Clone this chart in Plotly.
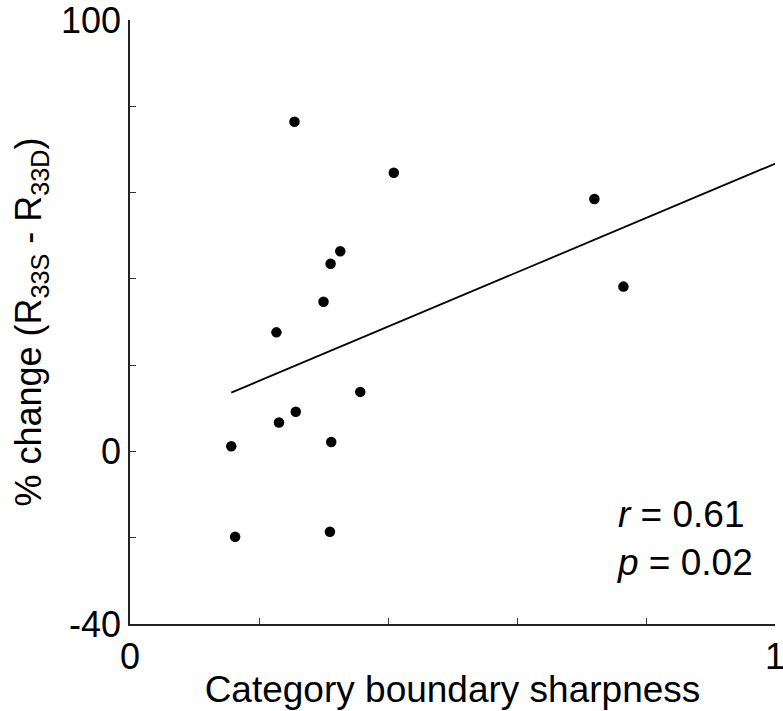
import numpy as np
import plotly.graph_objects as go

# Data
sharpness = [0.157, 0.163, 0.227, 0.231, 0.255, 0.257, 0.300, 0.311, 0.312,
             0.310, 0.326, 0.357, 0.409, 0.720, 0.765, 1.003]
pct_change = [1.2, -19.8, 27.6, 6.7, 76.4, 9.2, 34.7, 43.5, 2.2,
              -18.6, 46.4, 13.8, 64.6, 58.5, 38.2, 59.4]

x_tickvals = [0, 0.2, 0.4, 0.6, 0.8, 1]
x_ticktext = ["0", "", "", "", "", "1"]
y_tickvals = [-40, -20, 0, 20, 40, 60, 80, 100]
y_ticktext = ["-40", "", "0", "", "", "", "", "100"]

stats_text = "<i>r</i> = 0.61<br><i>p</i> = 0.02"

# Least-squares regression line
xa = np.array(sharpness)
ya = np.array(pct_change)
slope, intercept = np.polyfit(xa, ya, 1)
fit_x = [xa.min(), xa.max()]
fit_y = [slope * v + intercept for v in fit_x]

FONT = "Liberation Sans, Arial, sans-serif"

fig = go.Figure()
fig.add_trace(go.Scatter(x=fit_x, y=fit_y, mode="lines",
                         line=dict(color="black", width=1.8),
                         hoverinfo="skip", showlegend=False))
fig.add_trace(go.Scatter(x=sharpness, y=pct_change, mode="markers",
                         marker=dict(color="black", size=10.5),
                         cliponaxis=False, showlegend=False))

fig.update_layout(
    width=783, height=711,
    margin=dict(l=130, r=8, t=20, b=87),
    plot_bgcolor="white", paper_bgcolor="white",
    font=dict(family=FONT, size=36, color="black"),
    showlegend=False,
)
fig.update_xaxes(
    range=[0, 1], tickvals=x_tickvals, ticktext=x_ticktext,
    ticks="inside", ticklen=6, tickwidth=1, tickcolor="#333",
    showline=True, linecolor="#222", linewidth=1.5,
    showgrid=False, zeroline=False, automargin=False,
    ticklabeloverflow="allow",
    tickfont=dict(size=36),
    title=dict(text="Category boundary sharpness", font=dict(size=37), standoff=0),
)
fig.update_yaxes(
    range=[-40, 100], tickvals=y_tickvals, ticktext=y_ticktext,
    ticks="inside", ticklen=6, tickwidth=1, tickcolor="#333",
    showline=True, linecolor="#222", linewidth=1.5,
    showgrid=False, zeroline=False, automargin=False,
    ticklabeloverflow="allow",
    tickfont=dict(size=36),
    title=dict(text="% change (R<sub>33S</sub> - R<sub>33D</sub>)", font=dict(size=36), standoff=8),
)
fig.add_annotation(
    xref="paper", yref="paper", x=0.969, y=0.142,
    xanchor="right", yanchor="middle", align="left",
    text=stats_text, showarrow=False,
    font=dict(size=37, family=FONT),
)

fig.write_html("out.html",
               config={"displayModeBar": False},
               post_script="document.body.style.margin='0';document.body.style.overflow='hidden';")
